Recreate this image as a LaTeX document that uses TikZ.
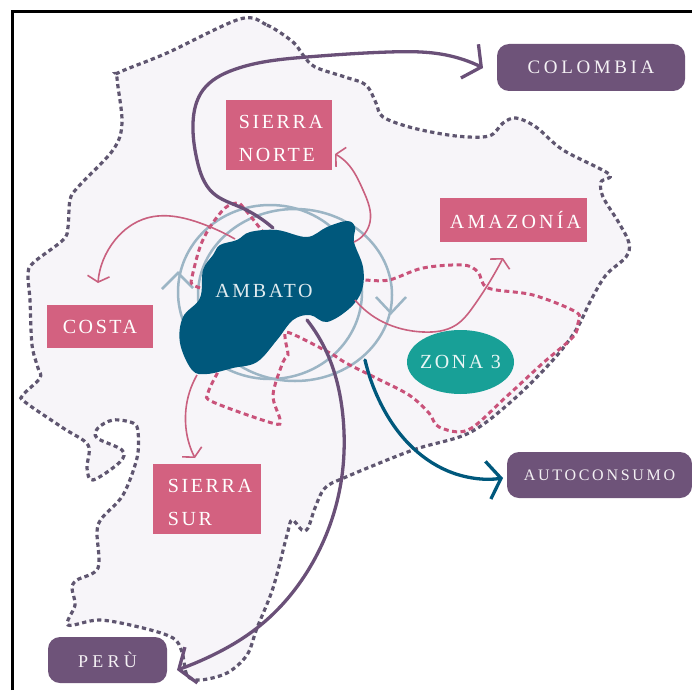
\documentclass[tikz,border=0pt]{standalone}
\usepackage{fontspec}
\setmainfont{Liberation Serif}
\usetikzlibrary{arrows.meta, shapes.geometric, hobby}

\definecolor{boxpink}{HTML}{D36180}
\definecolor{linepink}{HTML}{C9607F}
\definecolor{dashpink}{HTML}{C9527A}
\definecolor{boxpurple}{HTML}{6E5379}
\definecolor{linepurple}{HTML}{6A5078}
\definecolor{blobblue}{HTML}{00587C}
\definecolor{zonateal}{HTML}{18A097}
\definecolor{ringblue}{HTML}{9CB5C5}
\definecolor{landfill}{HTML}{F7F5F9}
\definecolor{borderdash}{HTML}{5F5670}

\newcommand{\capgap}{\rule{0pt}{20pt}}

\tikzset{
  spaced/.style 2 args={font=\fontsize{#1}{33}\selectfont\addfontfeatures{LetterSpace=#2}},
  region/.style={fill=boxpink, text=white, inner sep=0pt, align=left, spaced={20}{13}},
  country/.style={fill=boxpurple, text=white!92!boxpurple, rounded corners=12pt, inner sep=0pt, spaced={19}{19}},
  pinkarrow/.style={draw=linepink, line width=1.6pt, -{Straight Barb[length=6pt,width=22pt]}},
  pinkdash/.style={draw=dashpink, line width=3pt, dash pattern=on 5pt off 3.5pt},
  bigarrow/.style={line width=3.3pt, line cap=round, -{Straight Barb[length=13pt,width=38pt]}}
}

\begin{document}
\begin{tikzpicture}[x=1pt, y=-1pt]
    \useasboundingbox (0,0) rectangle (692,690);
    \draw[line width=3pt] (12,690) -- (12,12) -- (692,12);

    % map of the country
    \draw[fill=landfill, draw=borderdash, line width=3.2pt, dash pattern=on 4.3pt off 3.3pt]
      plot[smooth cycle, tension=0.55] coordinates {
        (240,19) (267,25) (293,42) (303,55) (315,67) (345,77) (366,85) (376,103) (383,117)
        (413,128) (456,136) (489,136) (503,123) (516,118) (536,127) (563,150) (609,174)
        (601,182) (603,197) (619,223) (629,243) (626,257) (606,275) (591,300) (576,330)
        (553,360) (513,400) (469,433) (413,450) (346,477) (325,488) (315,508) (308,528)
        (302,530) (292,520) (287,535) (273,588) (257,628) (247,655) (227,673) (200,680)
        (187,675) (182,652) (173,638) (143,628) (100,620) (68,625) (75,605) (72,588)
        (77,580) (98,568) (97,532) (102,518) (123,495) (137,458) (138,432) (133,423)
        (113,420) (98,428) (97,438) (122,450) (120,462) (93,480) (87,468) (88,445)
        (63,428) (25,402) (23,395) (40,378) (38,368) (32,345) (30,300) (28,275) (33,263)
        (63,240) (68,227) (70,200) (78,187) (113,150) (122,123) (117,78) (120,72) (167,53)
      };

    % rings round the city
    \draw[ringblue, line width=2.5pt] (270,292) ellipse [x radius=92, y radius=87];
    \draw[ringblue, line width=2.5pt] (295,295) ellipse [x radius=97, y radius=86];
    \draw[ringblue, line width=2.5pt] (162,289) -- (178,273) -- (193,288);
    \draw[ringblue, line width=2.5pt] (376,297) -- (391,313) -- (406,297);

    % zone limits
    \draw[pinkdash] plot[smooth, tension=0.55] coordinates {
        (340,280) (363,280) (389,280) (423,268) (463,265) (478,272) (488,288) (533,295)
        (576,312) (578,323) (573,337) (543,363) (506,397) (468,430) (439,427) (429,413)
        (409,395) (376,378) (346,363) (330,353) (290,333) (285,337) (288,355) (283,362)
        (273,395) (280,420) (272,423) (213,402) (208,393) (218,372)
      };
    \draw[pinkdash] plot[smooth, tension=0.55] coordinates {
        (200,288) (192,284) (192,277) (200,247) (210,227) (225,208) (237,203) (243,207) (263,232)
      };

    \fill[blobblue] plot[smooth cycle, tension=0.6] coordinates {
        (347,221) (355,227) (354,242) (363,267) (362,290) (350,308) (327,322) (310,315)
        (293,320) (277,340) (257,362) (233,368) (207,374) (192,370) (180,343) (183,317)
        (200,298) (203,270) (213,255) (220,245) (237,240) (250,232) (277,230) (307,237) (327,227)
      };

    \node (ambato) [text=white!88!blobblue, inner sep=0pt, spaced={20}{13}] at (264,291) {AMBATO};
    \node (sierranorte) [region, minimum width=106pt, minimum height=70pt, inner xsep=0pt] at (279,135) {\hspace{4pt}\capgap SIERRA\\\hspace{4pt}NORTE};
    \node (costa) [region, minimum width=106pt, minimum height=43pt] at (100,326.5) {COSTA};
    \node (amazonia) [region, minimum width=147pt, minimum height=44pt, spaced={20}{16}] at (513.5,220) {\hspace{4pt}AMAZONÍA};
    \node (sierrasur) [region, minimum width=108pt, minimum height=70pt] at (207,499) {\hspace{6pt}\capgap SIERRA\\\hspace{6pt}SUR};
    \node (zona) [ellipse, fill=zonateal, text=white!90!zonateal, inner sep=0pt, inner xsep=-8pt, spaced={20}{13},
      minimum width=107pt, minimum height=64pt] at (460.5,362) {ZONA 3};
    \node (colombia) [country, minimum width=188pt, minimum height=47pt] at (591,67.5) {COLOMBIA};
    \node (autoconsumo) [country, minimum width=185pt, minimum height=46pt, spaced={16}{17}] at (599.5,475) {AUTOCONSUMO};
    \node (peru) [country, minimum width=119pt, minimum height=46pt, spaced={18}{24}] at (107.5,660) {PERÙ};

    \coordinate (costastart) at (235,239);
    \coordinate (costatip) at (98,283);
    \coordinate (nortestart) at (354,242);
    \coordinate (nortetip) at (335,154);
    \coordinate (amazstart) at (355,300);
    \coordinate (amaztip) at (503,258);
    \coordinate (surstart) at (197,375);
    \coordinate (surtip) at (195,458);
    \coordinate (colstart) at (273,228);
    \coordinate (coltip) at (483,68);
    \coordinate (perustart) at (307,320);
    \coordinate (perutip) at (177,670);
    \coordinate (autostart) at (365,360);
    \coordinate (autotip) at (503,478);

    \draw[pinkarrow] (costastart) to[curve through={(200,223) .. (147,218) .. (115,240)}] (costatip);
    \draw[pinkarrow] (nortestart) to[curve through={(370,222) .. (363,190) .. (347,163)}] (nortetip);
    \draw[pinkarrow] (amazstart) to[curve through={(383,322) .. (423,332) .. (456,325) .. (473,307)}] (amaztip);
    \draw[pinkarrow] (surstart) to[curve through={(187,402)}] (surtip);

    \draw[bigarrow, linepurple] (colstart) to[curve through={(240,207) .. (213,193) .. (197,160) .. (193,123) .. (203,90) .. (233,70) .. (307,57) .. (389,52) .. (446,55)}] (coltip);
    \draw[bigarrow, linepurple] (perustart) to[curve through={(327,353) .. (343,417) .. (340,488) .. (313,562) .. (257,628) .. (213,655)}] (perutip);
    \draw[bigarrow, blobblue] (autostart) to[curve through={(379,400) .. (413,448) .. (453,473)}] (autotip);
\end{tikzpicture}
\end{document}
